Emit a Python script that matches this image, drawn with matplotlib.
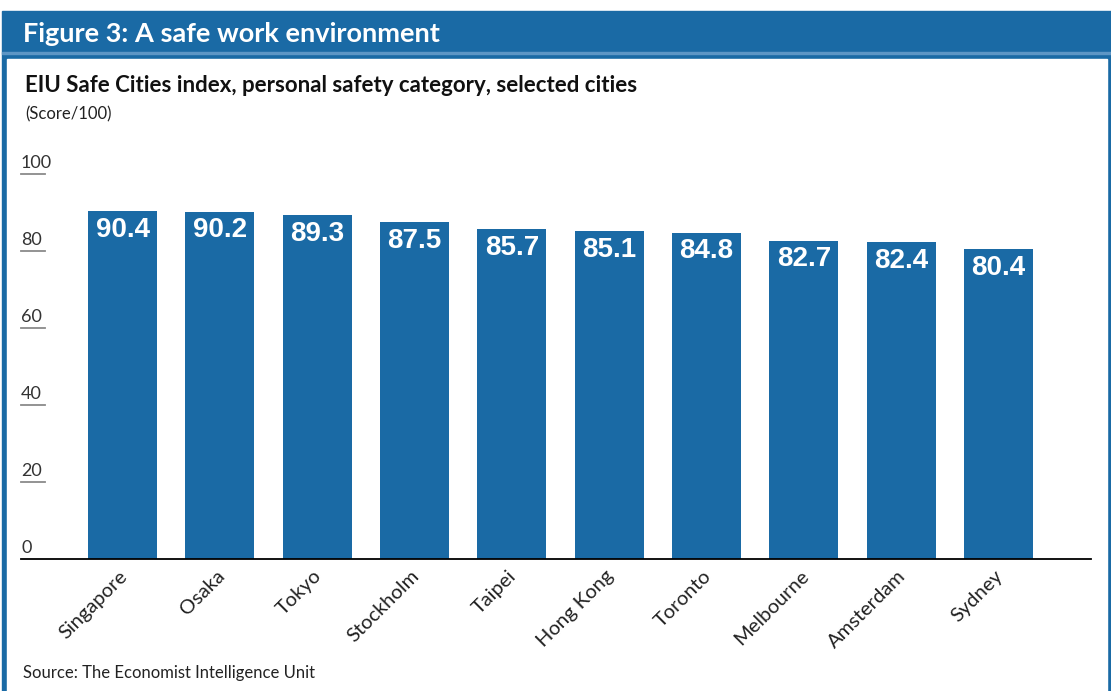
import matplotlib.pyplot as plt
from matplotlib.patches import Rectangle
from matplotlib.transforms import ScaledTranslation

cities = ["Singapore", "Osaka", "Tokyo", "Stockholm", "Taipei",
          "Hong Kong", "Toronto", "Melbourne", "Amsterdam", "Sydney"]
scores = [90.4, 90.2, 89.3, 87.5, 85.7, 85.1, 84.8, 82.7, 82.4, 80.4]
yticks = [20, 40, 60, 80, 100]

W, H = 1111, 691
BLUE = "#1a6aa5"
FONT = ["Lato", "DejaVu Sans"]

plt.rcParams["font.family"] = FONT

fig = plt.figure(figsize=(W / 100, H / 100), dpi=100)


def fx(px):
    return px / W


def fy(py):
    return 1 - py / H


# blue frame with header band, white panel inside
fig.patches.append(Rectangle((fx(2), 0), fx(1111) - fx(2), fy(11),
                             transform=fig.transFigure, color=BLUE, zorder=0))
fig.patches.append(Rectangle((fx(7), 0), fx(1107) - fx(7), fy(59),
                             transform=fig.transFigure, color="white", zorder=1))
fig.patches.append(Rectangle((fx(2), fy(53.5)), fx(1111) - fx(2), 1.5 / H,
                             transform=fig.transFigure, color="#5d96c5", zorder=1))

fig.text(fx(23), fy(34), "Figure 3: A safe work environment", color="white",
         fontsize=19.5, fontweight="bold", va="center", ha="left")
fig.text(fx(25), fy(86), "EIU Safe Cities index, personal safety category, selected cities",
         color="#111111", fontsize=16, fontweight="bold", va="center", ha="left")
fig.text(fx(25), fy(114), "(Score/100)", color="#222222", fontsize=12,
         va="center", ha="left")
fig.text(fx(23), fy(673), "Source: The Economist Intelligence Unit", color="#222222",
         fontsize=12, va="center", ha="left")

# plot area: 0 sits on y=559px, 100 on y=174px
ax = fig.add_axes([fx(21), fy(559), fx(1091) - fx(21), (559 - 174) / H])
ax.set_zorder(2)
ax.patch.set_visible(False)

x = list(range(len(cities)))
ax.bar(x, scores, width=0.709, color=BLUE, zorder=2)
ax.set_xlim(-1.043, 9.95)
ax.set_ylim(0, 100)

for xi, v in zip(x, scores):
    ax.annotate(f"{v:.1f}", (xi, v), xytext=(0, -13.5), textcoords="offset points",
                ha="center", va="center", color="white", fontsize=20,
                fontweight="bold", family="Liberation Sans")

for sp in ax.spines.values():
    sp.set_visible(False)
ax.axhline(0, color="black", lw=1.3, zorder=3, clip_on=False)
ax.set_yticks([])
ax.set_xticks(x)
ax.set_xticklabels(cities, rotation=45, ha="right", va="top",
                   rotation_mode="anchor", fontsize=14.5, color="#222222")
ax.tick_params(axis="x", length=0, pad=6)
shift = ScaledTranslation(-4 / 100, 0, fig.dpi_scale_trans)
for lbl in ax.get_xticklabels():
    lbl.set_transform(lbl.get_transform() + shift)

# short underline under each y label
ytr = ax.get_yaxis_transform()
for t in yticks:
    ax.plot([0, 24 / 1070], [t, t], transform=ytr, color="#8a8a8a", lw=1.3,
            clip_on=False, zorder=3)
for t in [0] + yticks:
    ax.annotate(str(t), (0, t), xycoords=ytr, xytext=(0, 2), textcoords="offset points",
                ha="left", va="bottom", fontsize=13, color="#333333")

fig.savefig("out.png", dpi=100)
